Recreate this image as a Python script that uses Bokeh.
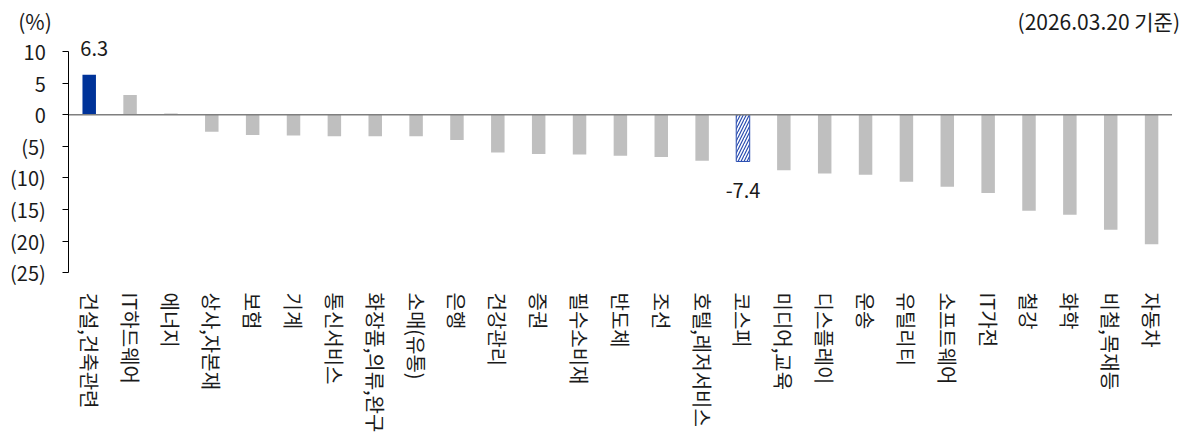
from bokeh.plotting import figure
from bokeh.models import FixedTicker, Label, Range1d
from bokeh.embed import file_html
from bokeh.resources import INLINE

categories = ["건설,건축관련", "IT하드웨어", "에너지", "상사,자본재", "보험", "기계", "통신서비스",
              "화장품,의류,완구", "소매(유통)", "은행", "건강관리", "증권", "필수소비재", "반도체",
              "조선", "호텔,레저서비스", "코스피", "미디어,교육", "디스플레이", "운송", "유틸리티",
              "소프트웨어", "IT가전", "철강", "화학", "비철,목재등", "자동차"]
values = [6.3, 3.1, 0.2, -2.7, -3.2, -3.3, -3.4, -3.4, -3.4, -4.0, -6.0, -6.2, -6.3, -6.5,
          -6.7, -7.3, -7.4, -8.8, -9.3, -9.5, -10.6, -11.4, -12.4, -15.2, -15.8, -18.2, -20.5]
y_ticks = [10, 5, 0, -5, -10, -15, -20, -25]
y_tick_labels = ["10", "5", "0", "(5)", "(10)", "(15)", "(20)", "(25)"]
top_label = "건설,건축관련"
index_label = "코스피"
unit_text = "(%)"
date_text = "(2026.03.20 기준)"

FONT = "Noto Sans CJK KR"
BLUE = "#003399"
GRAY = "#BFBFBF"
HATCH = "#2a4db0"
TXT = "#1a1a1a"

N = len(categories)
pos = list(range(N))

p = figure(width=1189, height=443, output_backend="svg", toolbar_location=None,
           x_range=Range1d(-2.171, 26.928), y_range=Range1d(-27, 18.04),
           min_border_left=0, min_border_right=0, min_border_top=0, min_border_bottom=158)
p.background_fill_color = "white"
p.border_fill_color = "white"
p.outline_line_color = None
p.xgrid.grid_line_color = None
p.ygrid.grid_line_color = None

top_i = categories.index(top_label)
idx_i = categories.index(index_label)
top_val = values[top_i]
idx_val = values[idx_i]

gray_x = [i for i in pos if i not in (top_i, idx_i)]
gray_v = [values[i] for i in gray_x]
p.vbar(x=gray_x, top=gray_v, bottom=0, width=0.33, fill_color=GRAY, line_color=None)
p.vbar(x=[top_i], top=[top_val], bottom=0, width=0.33, fill_color=BLUE, line_color=None)
p.vbar(x=[idx_i], top=[idx_val], bottom=0, width=0.33, fill_color="white",
       line_color=HATCH, line_width=1, hatch_pattern="/", hatch_color=HATCH,
       hatch_scale=6, hatch_weight=1.2)

# zero line across the category span
p.segment(x0=[pos[0] - 0.5], x1=[pos[-1] + 0.5], y0=[0], y1=[0],
          line_color="#7f7f7f", line_width=1.5)

# y axis, fixed at the left edge of the first category
ya = p.yaxis[0]
ya.fixed_location = pos[0] - 0.5
ya.bounds = (min(y_ticks), max(y_ticks))
ya.ticker = FixedTicker(ticks=y_ticks)
ya.major_label_overrides = {t: s for t, s in zip(y_ticks, y_tick_labels)}
ya.axis_line_color = "black"
ya.axis_line_width = 1
ya.major_tick_line_color = "black"
ya.major_tick_out = 6
ya.major_tick_in = 0
ya.minor_tick_line_color = None
ya.major_label_standoff = 17
ya.major_label_text_font = FONT
ya.major_label_text_font_size = "20px"
ya.major_label_text_color = TXT

# x axis with category names
xa = p.xaxis[0]
xa.ticker = FixedTicker(ticks=pos)
xa.major_label_overrides = {i: c for i, c in zip(pos, categories)}
xa.axis_line_color = None
xa.major_tick_line_color = None
xa.minor_tick_line_color = None
xa.major_label_orientation = "vertical"
xa.major_label_standoff = 1
xa.major_label_text_font = FONT
xa.major_label_text_font_size = "20px"
xa.major_label_text_color = TXT

# value labels
p.add_layout(Label(x=top_i, y=top_val, text=f"{top_val:.1f}", text_align="center",
                   text_baseline="middle", y_offset=26, x_offset=5, text_font=FONT,
                   text_font_size="20px", text_color=TXT))
p.add_layout(Label(x=idx_i, y=idx_val, text=f"{idx_val:.1f}", text_align="center",
                   text_baseline="middle", y_offset=-29, text_font=FONT,
                   text_font_size="20px", text_color=TXT))

# unit and date
p.add_layout(Label(x=pos[0] - 0.5, y=max(y_ticks), text=unit_text, text_align="right",
                   text_baseline="middle", x_offset=-17, y_offset=30, text_font=FONT,
                   text_font_size="21px", text_color=TXT))
p.add_layout(Label(x=pos[-1] + 0.5, y=max(y_ticks), text=date_text, text_align="right",
                   text_baseline="middle", x_offset=8, y_offset=30, text_font=FONT,
                   text_font_size="21px", text_color=TXT))

open("out.html", "w").write(file_html(p, INLINE))
